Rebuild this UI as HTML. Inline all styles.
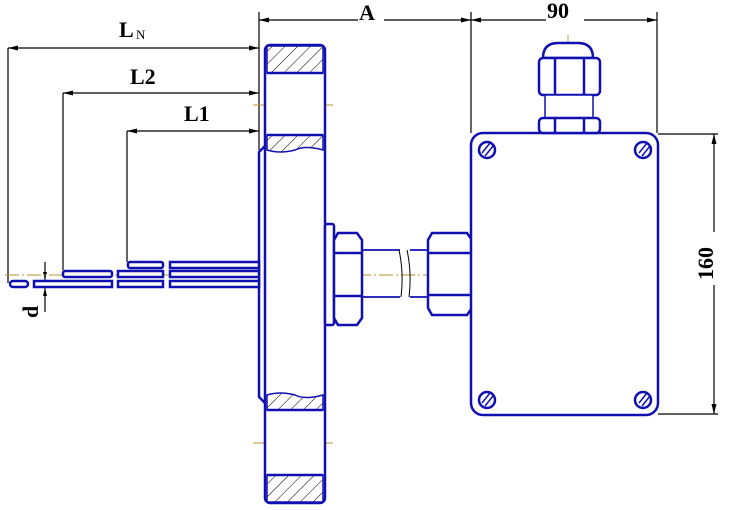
<!DOCTYPE html>
<html><head><style>body{margin:0;background:#fff}svg{display:block}</style></head><body>
<svg width="735" height="510" viewBox="0 0 735 510" xmlns="http://www.w3.org/2000/svg" font-family="Liberation Serif, serif" font-weight="bold">
<defs>
<pattern id="h" width="9" height="9" patternUnits="userSpaceOnUse" patternTransform="rotate(45)"><line x1="0" y1="0" x2="0" y2="9" stroke="#000" stroke-width="1"/></pattern>
</defs>
<g stroke="#000" stroke-width="1.2" fill="none">
<line x1="259" y1="12" x2="259" y2="150"/>
<line x1="471" y1="12" x2="471" y2="133"/>
<line x1="657" y1="12" x2="657" y2="133"/>
<line x1="259" y1="20" x2="358" y2="20"/><line x1="384" y1="20" x2="471" y2="20"/>
<line x1="471" y1="20" x2="546" y2="20"/><line x1="584" y1="20" x2="657" y2="20"/>
<line x1="658" y1="134" x2="718" y2="134"/><line x1="658" y1="414" x2="718" y2="414"/>
<line x1="714" y1="134" x2="714" y2="232"/><line x1="714" y1="285" x2="714" y2="414"/>
<line x1="8" y1="48" x2="259" y2="48"/><line x1="8" y1="48" x2="8" y2="283"/>
<line x1="63" y1="93" x2="259" y2="93"/><line x1="63" y1="93" x2="63" y2="270"/>
<line x1="127" y1="131" x2="259" y2="131"/><line x1="127" y1="131" x2="127" y2="262"/>
<line x1="45" y1="262" x2="45" y2="312"/>
</g>
<g fill="#000">
<path d="M259 20l10-2.5v5zM471 20l-10-2.5v5zM471 20l10-2.5v5zM657 20l-10-2.5v5zM714 134l-2.5 10h5zM714 414l-2.5-10h5z"/>
<path d="M8 48l10-2.5v5zM259 48l-10-2.5v5zM63 93l10-2.5v5zM259 93l-10-2.5v5zM127 131l10-2.5v5zM259 131l-10-2.5v5zM45 280l-2-8h4zM45 288l-2 8h4z"/>
</g>
<g font-size="22">
<text x="359" y="20">A</text>
<text x="547" y="18">90</text>
<text x="119" y="37">L</text><text x="136" y="39" font-size="13" font-weight="normal">N</text>
<text x="130" y="84">L2</text>
<text x="184" y="121">L1</text>
<text transform="translate(713,280) rotate(-90)">160</text>
<text transform="translate(38,318) rotate(-90)">d</text>
</g>
<g stroke="#b8962e" stroke-width="0.9" stroke-dasharray="14 3 2 3">
<line x1="5" y1="275" x2="480" y2="275"/>
<line x1="253" y1="105" x2="333" y2="105"/>
<line x1="253" y1="443" x2="333" y2="443"/>
<line x1="568" y1="35" x2="568" y2="140"/>
</g>
<g stroke="#1010b0" stroke-width="2.5" fill="#fff">
<path d="M259 152 L266 145 L266 404 L259 397 Z"/>
<rect x="265" y="45" width="60" height="458" rx="5"/>
<rect x="267" y="46" width="56" height="27" fill="url(#h)" stroke-width="1.5"/>
<path d="M267 135 H323 V150 Q305 145 295 150 Q280 154 267 150 Z" fill="url(#h)" stroke-width="1.5"/>
<path d="M267 410 H323 V395 Q305 400 295 395 Q280 391 267 395 Z" fill="url(#h)" stroke-width="1.5"/>
<rect x="267" y="475" width="56" height="27" fill="url(#h)" stroke-width="1.5"/>
<line x1="267" y1="73" x2="323" y2="73"/><line x1="267" y1="135" x2="323" y2="135"/>
<line x1="267" y1="410" x2="323" y2="410"/><line x1="267" y1="475" x2="323" y2="475"/>
<rect x="10" y="281" width="18" height="6" rx="3"/>
<rect x="34" y="281" width="78" height="6"/>
<rect x="118" y="281" width="45" height="6"/>
<rect x="170" y="281" width="89" height="6"/>
<rect x="63" y="271" width="49" height="6" rx="2"/>
<rect x="118" y="271" width="45" height="6"/>
<rect x="170" y="271" width="89" height="6"/>
<rect x="128" y="262" width="35" height="6" rx="2"/>
<rect x="170" y="262" width="89" height="6"/>
<rect x="325" y="224" width="9" height="101" rx="2"/>
<path d="M338 233 H357 L362 240 V318 L357 325 H338 L334 318 V240 Z"/>
<line x1="334" y1="253" x2="362" y2="253"/><line x1="334" y1="296" x2="362" y2="296"/>
<path d="M432 233 H467 L472 240 V308 L467 315 H432 L428 308 V240 Z"/>
<line x1="428" y1="253" x2="472" y2="253"/><line x1="428" y1="295" x2="472" y2="295"/>
<rect x="471" y="133" width="187" height="282" rx="12"/>
<path d="M543 58 Q543 43 558 43 H578 Q593 43 593 58 Z"/>
<rect x="539" y="58" width="61" height="37" rx="4"/>
<line x1="555" y1="58" x2="555" y2="95"/><line x1="584" y1="58" x2="584" y2="95"/>
<rect x="545" y="95" width="48" height="23" stroke-width="1.5"/>
<rect x="539" y="118" width="61" height="15" rx="4"/>
<line x1="555" y1="118" x2="555" y2="133"/><line x1="584" y1="118" x2="584" y2="133"/>
</g>
<g stroke="#1010b0" stroke-width="1.8" fill="none">
<path d="M362 250 H400 M362 297 H400 M410 250 H428 M410 297 H428"/>
<path d="M399 250 Q404 273 401 297 M407 250 Q412 273 409 297" stroke="#000" stroke-width="1"/>
</g>
<g stroke="#1010b0" stroke-width="2.5" fill="#fff">
<circle cx="487" cy="150" r="8"/><circle cx="643" cy="150" r="8"/>
<circle cx="487" cy="400" r="8"/><circle cx="643" cy="400" r="8"/>
</g>
<g stroke="#1010b0" stroke-width="1.5">
<path d="M482 153l8-10M485 156l8-10M639 153l8-10M642 156l8-10M482 403l8-10M485 406l8-10M639 403l8-10M642 406l8-10"/>
</g>
</svg>
</body></html>
